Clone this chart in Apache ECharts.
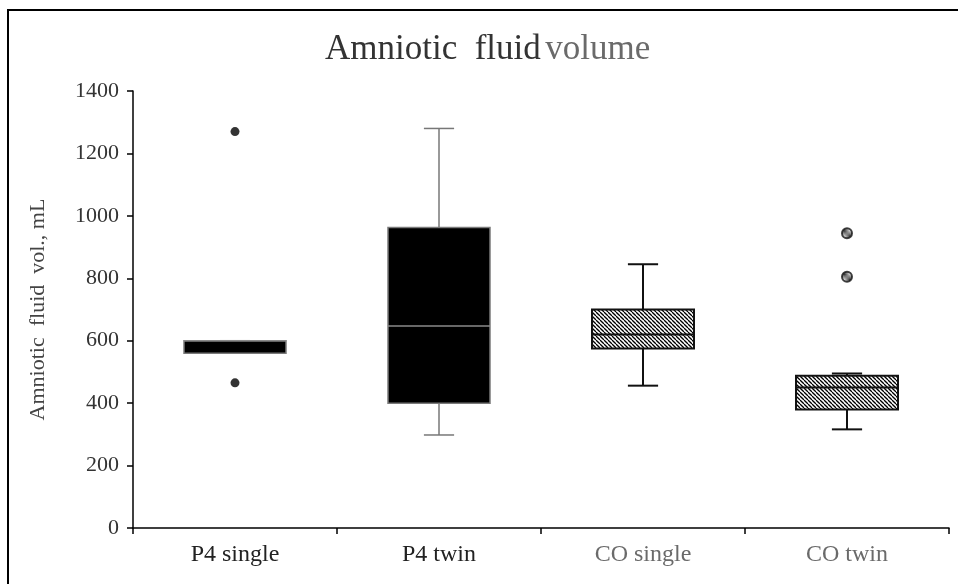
<!DOCTYPE html>
<html>
<head>
<meta charset="utf-8">
<script src="https://cdn.jsdelivr.net/npm/echarts@6/dist/echarts.min.js"></script>
<style>
html,body{margin:0;padding:0;background:#fff;}
#chart{width:958px;height:584px;}
</style>
</head>
<body>
<div id="chart"></div>
<script>
// ---- data ----
const categories = ['P4 single', 'P4 twin', 'CO single', 'CO twin'];
const whiskerLow = [560, 298, 456, 316];
const quartile1 = [560, 400, 575, 380];
const medians = [600, 647, 620, 450];
const quartile3 = [600, 963, 700, 488];
const whiskerHigh = [600, 1280, 845, 495];
const outlierCategory = ['P4 single', 'P4 single', 'CO twin', 'CO twin'];
const outlierValue = [1270, 465, 944, 805];
const yTicks = [0, 200, 400, 600, 800, 1000, 1200, 1400];

// ---- styles ----
function makeHatch() {
  const s = 4;
  const c = document.createElement('canvas');
  c.width = s; c.height = s;
  const g = c.getContext('2d');
  g.fillStyle = '#fff';
  g.fillRect(0, 0, s, s);
  g.strokeStyle = '#000';
  g.lineWidth = 1.3;
  for (const o of [-s, 0, s]) {
    g.beginPath();
    g.moveTo(o, 0);
    g.lineTo(o + s, s);
    g.stroke();
  }
  return c;
}
const hatch = makeHatch();
const hatchFill = { image: hatch, repeat: 'repeat' };
const groupStyle = {
  'P4': { fill: '#000', stroke: '#7a7a7a', boxWidth: 1.5, median: '#8a8a8a', whisker: '#777', whiskerWidth: 1.5, label: '#222' },
  'CO': { fill: hatchFill, stroke: '#111', boxWidth: 2, median: '#111', whisker: '#111', whiskerWidth: 2, label: '#6a6a6a' }
};
function styleOf(cat) { return groupStyle[cat.slice(0, 2)]; }

const boxData = categories.map((c, i) => [i, whiskerLow[i], quartile1[i], medians[i], quartile3[i], whiskerHigh[i]]);

const outlierData = outlierValue.map((v, i) => {
  const isP4 = outlierCategory[i].startsWith('P4');
  return {
    value: [outlierCategory[i], v],
    symbolSize: isP4 ? 9 : 10,
    itemStyle: isP4 ? { color: '#000', borderWidth: 0 } : { color: hatchFill, borderColor: '#111', borderWidth: 2 }
  };
});

function renderBox(params, api) {
  const i = api.value(0);
  const cat = categories[i];
  const st = styleOf(cat);
  const band = api.size([1, 0])[0];
  const cx = api.coord([i, 0])[0];
  const half = band * 0.25;
  const capHalf = band * 0.074;
  const yLow = api.coord([i, api.value(1)])[1];
  const yQ1 = api.coord([i, api.value(2)])[1];
  const yMed = api.coord([i, api.value(3)])[1];
  const yQ3 = api.coord([i, api.value(4)])[1];
  const yHigh = api.coord([i, api.value(5)])[1];
  const wStyle = { stroke: st.whisker, lineWidth: st.whiskerWidth, fill: null };
  return {
    type: 'group',
    children: [
      { type: 'line', shape: { x1: cx, y1: yHigh, x2: cx, y2: yQ3 }, style: wStyle },
      { type: 'line', shape: { x1: cx, y1: yLow, x2: cx, y2: yQ1 }, style: wStyle },
      { type: 'line', shape: { x1: cx - capHalf, y1: yHigh, x2: cx + capHalf, y2: yHigh }, style: wStyle },
      { type: 'line', shape: { x1: cx - capHalf, y1: yLow, x2: cx + capHalf, y2: yLow }, style: wStyle },
      { type: 'rect', shape: { x: cx - half, y: yQ3, width: half * 2, height: Math.max(yQ1 - yQ3, 1) },
        style: { fill: st.fill, stroke: st.stroke, lineWidth: st.boxWidth } },
      { type: 'line', shape: { x1: cx - half, y1: yMed, x2: cx + half, y2: yMed },
        style: { stroke: st.median, lineWidth: st.boxWidth, fill: null } }
    ]
  };
}

const chart = echarts.init(document.getElementById('chart'), null, { renderer: 'canvas' });
const serif = '"Liberation Serif", "Times New Roman", serif';
chart.setOption({
  backgroundColor: '#fff',
  animation: false,
  textStyle: { fontFamily: serif },
  title: {
    text: '{a|Amniotic  fluid} {b|volume}',
    left: 320,
    top: 27,
    textStyle: {
      rich: {
        a: { fontFamily: serif, fontSize: 35, fontWeight: 'normal', color: '#333' },
        b: { fontFamily: serif, fontSize: 35, fontWeight: 'normal', color: '#6a6a6a' }
      }
    }
  },
  graphic: [
    { type: 'rect', shape: { x: 8, y: 10, width: 980, height: 620 }, style: { fill: null, stroke: '#000', lineWidth: 2 }, silent: true }
  ],
  grid: { left: 133, right: 9, top: 91, bottom: 56, containLabel: false },
  xAxis: {
    type: 'category',
    data: categories,
    boundaryGap: true,
    axisLine: { show: true, lineStyle: { color: '#000', width: 1.5 } },
    axisTick: { show: true, length: 6, lineStyle: { color: '#000', width: 1.5 } },
    axisLabel: {
      margin: 15,
      fontFamily: serif,
      fontSize: 24,
      color: function (v) { return styleOf(v).label; }
    },
    splitLine: { show: false }
  },
  yAxis: {
    type: 'value',
    min: yTicks[0],
    max: yTicks[yTicks.length - 1],
    interval: yTicks[1] - yTicks[0],
    name: 'Amniotic  fluid  vol., mL',
    nameLocation: 'middle',
    nameGap: 84,
    nameTextStyle: { fontFamily: serif, fontSize: 22, color: '#444' },
    axisLine: { show: true, lineStyle: { color: '#000', width: 1.5 } },
    axisTick: { show: true, length: 6, lineStyle: { color: '#000', width: 1.5 } },
    axisLabel: { margin: 14, fontFamily: serif, fontSize: 22, color: '#333', formatter: function (v) { return String(v); } },
    splitLine: { show: false }
  },
  series: [
    {
      type: 'custom',
      renderItem: renderBox,
      data: boxData,
      encode: { x: 0, y: [1, 2, 3, 4, 5] },
      z: 2
    },
    {
      type: 'scatter',
      symbol: 'circle',
      data: outlierData,
      z: 3
    }
  ]
});
</script>
</body>
</html>
